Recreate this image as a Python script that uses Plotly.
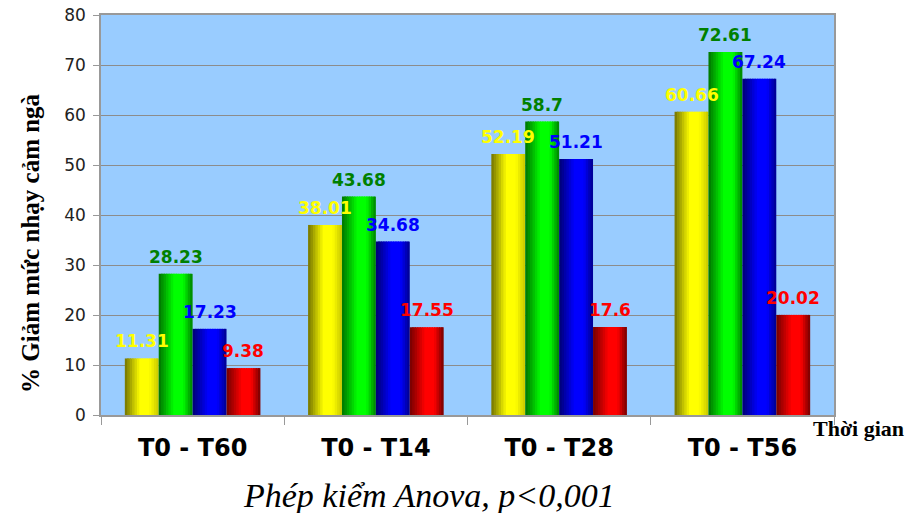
import plotly.graph_objects as go

# Data
categories = ["T0 - T60", "T0 - T14", "T0 - T28", "T0 - T56"]
series_yellow = [11.31, 38.01, 52.19, 60.66]
series_green = [28.23, 43.68, 58.7, 72.61]
series_blue = [17.23, 34.68, 51.21, 67.24]
series_red = [9.38, 17.55, 17.6, 20.02]

# Bar styling: base colour, right-edge shade, text colour
series = [
    (series_yellow, (255, 255, 0), 0.78, "#FFFF00"),
    (series_green, (0, 255, 0), 0.50, "#008000"),
    (series_blue, (0, 0, 255), 0.55, "#0000FF"),
    (series_red, (255, 0, 0), 0.45, "#FF0000"),
]

BAR_W = 0.185
GROUP_START = -0.37
N_STRIPES = 14


def shade(t, right):
    # cylinder-like horizontal shading profile
    left = 0.45
    if t < 0.45:
        return left + (1 - left) * (t / 0.45)
    if t < 0.72:
        return 1.0
    return 1.0 - (1.0 - right) * ((t - 0.72) / 0.28)


fig = go.Figure()
annotations = []
for si, (vals, base, right, tcol) in enumerate(series):
    off0 = GROUP_START + si * BAR_W
    sw = BAR_W / N_STRIPES
    for k in range(N_STRIPES):
        t = (k + 0.5) / N_STRIPES
        f = shade(t, right)
        col = "rgb({},{},{})".format(*[int(round(c * f)) for c in base])
        w = sw * (1.6 if k < N_STRIPES - 1 else 1.0)
        fig.add_trace(go.Bar(
            x=categories, y=vals, offset=off0 + k * sw, width=w,
            marker=dict(color=col, line=dict(width=0)),
            showlegend=False, hoverinfo="skip",
        ))
    for ci, v in enumerate(vals):
        annotations.append(dict(
            x=ci + off0 + BAR_W / 2, y=v, xref="x", yref="y",
            text=str(v), showarrow=False, xanchor="center", yanchor="bottom",
            yshift=5,
            font=dict(family="DejaVu Sans", size=17, color=tcol, weight="bold"),
        ))

annotations += [
    dict(x=-0.097, y=0.43, xref="paper", yref="paper", textangle=-90,
         xanchor="center", yanchor="middle",
         text="% Giảm mức nhạy cảm ngà", showarrow=False,
         font=dict(family="Liberation Serif", size=25, color="black", weight="bold")),
    dict(x=1.034, y=-0.0325, xref="paper", yref="paper",
         xanchor="center", yanchor="middle",
         text="Thời gian", showarrow=False,
         font=dict(family="Liberation Serif", size=22, color="black", weight="bold")),
    dict(x=0.448, y=-0.2, xref="paper", yref="paper",
         xanchor="center", yanchor="middle",
         text="Phép kiểm Anova, p<0,001", showarrow=False,
         font=dict(family="Liberation Serif", size=34, color="black", style="italic")),
]

fig.update_layout(
    barmode="overlay",
    width=906, height=513,
    margin=dict(l=101, r=72, t=15, b=98),
    paper_bgcolor="white",
    plot_bgcolor="#99CCFF",
    annotations=annotations,
    xaxis=dict(
        type="category", tickson="boundaries", ticks="outside", ticklen=8,
        tickcolor="#999999", showline=True, linecolor="#999999", linewidth=1.5,
        mirror=True, showgrid=False, ticklabelstandoff=10, automargin=False,
        tickfont=dict(family="DejaVu Sans", size=24, color="black", weight="bold"),
    ),
    yaxis=dict(
        range=[0, 80], dtick=10, ticks="outside", ticklen=6, tickcolor="#999999",
        showline=True, linecolor="#999999", linewidth=1.5, mirror=True,
        showgrid=True, gridcolor="#8c8c8c", gridwidth=1, zeroline=False,
        ticklabelstandoff=4, automargin=False,
        tickfont=dict(family="DejaVu Sans", size=17, color="#222222"),
    ),
)

fig.write_html("out.html")
